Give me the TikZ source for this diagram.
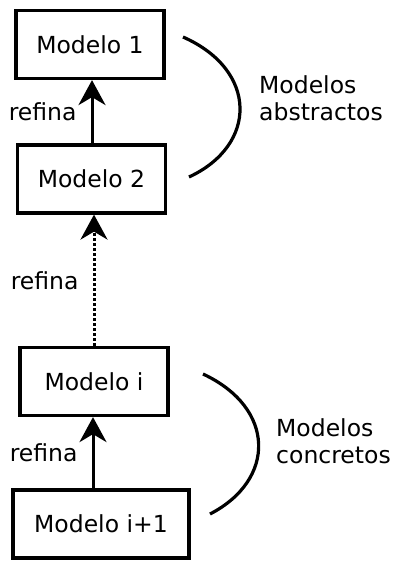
\documentclass[tikz,border=0pt]{standalone}
\usepackage{fontspec}
\setmainfont{DejaVu Sans}
\usetikzlibrary{calc, arrows.meta}

\tikzset{
	modelo/.style={rectangle, draw, line width=3.2pt, minimum width=148pt,
        minimum height=68pt, inner sep=0pt},
	refina/.style={-{Stealth[length=25pt, width=27pt, inset=8pt]}, line width=3pt},
	llave/.style={line width=3.2pt},
	etiq/.style={left, inner sep=0pt, xshift=-14pt}
}

\begin{document}
\begin{tikzpicture}[x=1pt, y=-1pt, font=\fontsize{23.5}{27}\selectfont]
	\useasboundingbox (0, 0) rectangle (392, 563);
	\node (m1) at (90, 44.5) [modelo] {Modelo 1};
	\node (m2) at (91.5, 179) [modelo] {Modelo 2};
	\node (mi) at (94, 381.5) [modelo] {Modelo i};
	\node (mi1) at (101, 524) [modelo, minimum width=176pt] {Modelo i+1};

	\draw [refina] (m2.north -| 92, 0) -- node [etiq] {refina} (m1.south -| 92, 0);
	\draw [refina, dash pattern=on 3pt off 2pt] (mi.north -| 94, 0) -- node
        [etiq] {refina} (m2.south -| 94, 0);
	\draw [refina] (mi1.north -| 93, 0) -- node [etiq] {refina} (mi.south -| 93, 0);

	\coordinate (a1) at (183, 37);
	\coordinate (a2) at (189, 177);
	\coordinate (c1) at (203, 374);
	\coordinate (c2) at (210, 514);
	\draw [llave] (a1) .. controls (258, 70) and (258, 145) .. (a2);
	\draw [llave] (c1) .. controls (276, 408) and (276, 480) .. (c2);

	\node (abs) at (259, 98) [anchor=west, align=left, inner sep=0pt]
        {Modelos\\abstractos};
	\node (con) at (276, 441) [anchor=west, align=left, inner sep=0pt]
        {Modelos\\concretos};
\end{tikzpicture}
\end{document}
